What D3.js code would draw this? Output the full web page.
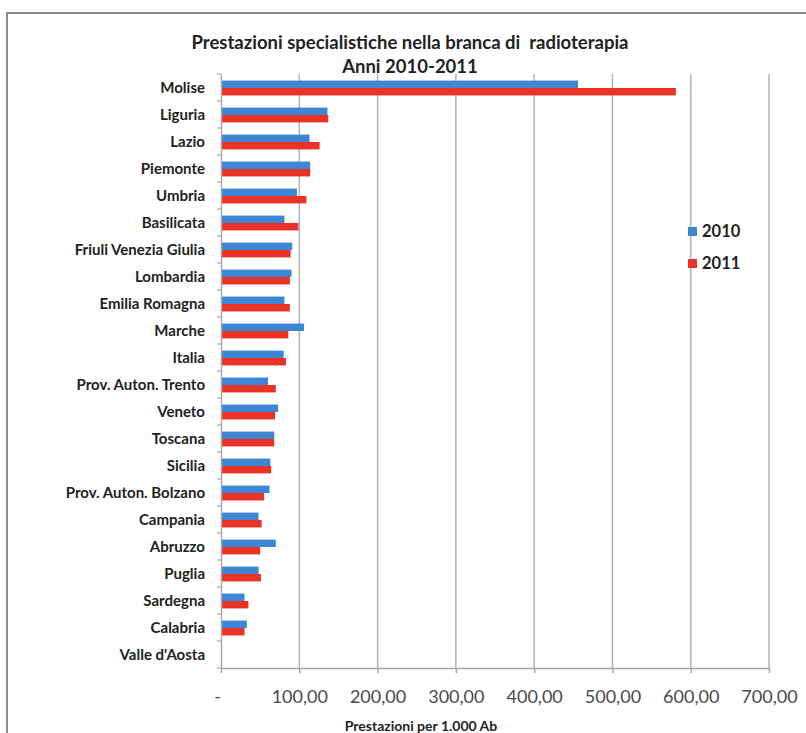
<!DOCTYPE html>
<html lang="it">
<head>
<meta charset="utf-8">
<title>radioterapia</title>
<style>
  body { margin: 0; background: #fff; }
  text { font-family: Lato, "Open Sans", sans-serif; }
</style>
</head>
<body>
<svg width="806" height="733"></svg>
<script src="https://d3js.org/d3.v7.min.js"></script>
<script>
// regions, top to bottom as in the chart
var regioni = ["Molise","Liguria","Lazio","Piemonte","Umbria","Basilicata","Friuli Venezia Giulia",
  "Lombardia","Emilia Romagna","Marche","Italia","Prov. Auton. Trento","Veneto","Toscana","Sicilia",
  "Prov. Auton. Bolzano","Campania","Abruzzo","Puglia","Sardegna","Calabria","Valle d'Aosta"];
var val2010 = [456,136,113,114,97,81,91,90,81,106,80,60,73,68,63,62,48,70,48,30,33,0];
var val2011 = [581,137,126,114,109,99,89,88,88,86,83,70,69,68,64,55,52,50,51,35,30,0];
var anni = ["2010","2011"];
var colori = ["#3d86d4","#ec3226"];
var xTicks = [0,100,200,300,400,500,600,700];

var svg = d3.select("svg");

// outer frame (top and left edge visible)
svg.append("path")
  .attr("d","M7,733V13H806")
  .attr("fill","none").attr("stroke","#8c8c8c").attr("stroke-width",2);

var x = d3.scaleLinear().domain([0,700]).range([221,769]);
var y = d3.scaleBand().domain(regioni).range([74,668]);
var ySub = d3.scaleBand().domain(anni).range([0,y.bandwidth()]).paddingOuter(0.82).paddingInner(0);

// gridlines
svg.append("g").selectAll("line").data(xTicks.slice(1)).join("line")
  .attr("x1",d=>x(d)).attr("x2",d=>x(d)).attr("y1",74).attr("y2",668)
  .attr("stroke","#b4b4b4").attr("stroke-width",1.5);

// bars
var rows = regioni.map((r,i)=>({r:r, v:[val2010[i], val2011[i]]}));
var g = svg.append("g").selectAll("g").data(rows).join("g")
  .attr("transform",d=>"translate(0,"+(y(d.r)+0.5)+")");
g.selectAll("rect").data(d=>d.v.map((v,k)=>({v:v,k:k}))).join("rect")
  .attr("x",x(0)).attr("y",d=>ySub(anni[d.k]))
  .attr("width",d=>x(d.v)-x(0)).attr("height",ySub.bandwidth())
  .attr("fill",d=>colori[d.k]);

// y axis
var yAxis = svg.append("g").attr("transform","translate("+x(0)+",0)")
  .call(d3.axisLeft(y).tickSize(0).tickPadding(16));
yAxis.select(".domain").attr("stroke","#a8a8a8").attr("stroke-width",1.5);
yAxis.selectAll("text").attr("font-size",15).attr("font-weight","bold").attr("fill","#222").attr("dy","0.35em");
svg.append("g").selectAll("line").data(d3.range(regioni.length+1)).join("line")
  .attr("x1",x(0)-4).attr("x2",x(0)).attr("y1",i=>74+i*y.step()).attr("y2",i=>74+i*y.step())
  .attr("stroke","#a8a8a8").attr("stroke-width",1.2);

// x axis
var fmt = d=> d===0 ? "-" : d3.format(".2f")(d).replace(".",",");
var xAxis = svg.append("g").attr("transform","translate(0,668)")
  .call(d3.axisBottom(x).tickValues(xTicks).tickSize(5).tickSizeOuter(0).tickPadding(17).tickFormat(fmt));
xAxis.select(".domain").attr("stroke","#a8a8a8").attr("stroke-width",1.5);
xAxis.selectAll(".tick line").attr("stroke","#a8a8a8").attr("stroke-width",1.5);
xAxis.selectAll("text").attr("font-size",18).attr("fill","#4a4a4a");
xAxis.selectAll(".tick").filter(d=>d===0).select("text").attr("x",-4);

// titles
svg.append("text").attr("x",410).attr("y",49).attr("text-anchor","middle")
  .attr("font-size",18.5).attr("font-weight","bold").attr("fill","#222")
  .attr("xml:space","preserve")
  .text("Prestazioni specialistiche nella branca di  radioterapia");
svg.append("text").attr("x",410).attr("y",73).attr("text-anchor","middle")
  .attr("font-size",18.5).attr("font-weight","bold").attr("fill","#222")
  .text("Anni 2010-2011");
svg.append("text").attr("x",421).attr("y",731).attr("text-anchor","middle")
  .attr("font-size",14).attr("font-weight","bold").attr("fill","#222")
  .text("Prestazioni per 1.000 Ab");

// legend
var leg = svg.append("g").selectAll("g").data(anni).join("g")
  .attr("transform",(d,i)=>"translate(688,"+(227+i*32)+")");
leg.append("rect").attr("width",9).attr("height",9).attr("fill",(d,i)=>colori[i]);
leg.append("text").attr("x",14).attr("y",4.5).attr("dy","0.35em")
  .attr("font-size",16.5).attr("font-weight","bold").attr("fill","#222").text(d=>d);
</script>
</body>
</html>
